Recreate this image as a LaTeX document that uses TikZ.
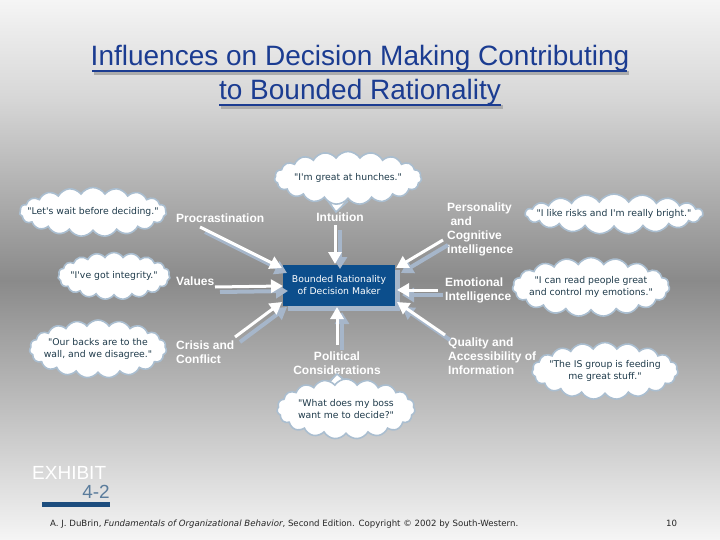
\documentclass[tikz,border=0pt]{standalone}
\usepackage{fontspec}
\setmainfont{Liberation Sans}
\newfontfamily\dvs{DejaVu Sans}
\usetikzlibrary{shapes.symbols,arrows.meta}
\definecolor{boxblue}{RGB}{12,78,140}
\definecolor{shblue}{RGB}{166,182,202}
\definecolor{titleblue}{RGB}{27,60,145}
\definecolor{cloudedge}{RGB}{170,190,208}
\definecolor{cloudtext}{RGB}{30,58,74}
\definecolor{exnum}{RGB}{90,124,156}
\definecolor{exbar}{RGB}{28,77,126}
\definecolor{bga}{RGB}{245,245,245}
\definecolor{bgb}{RGB}{214,214,214}
\definecolor{bgc}{RGB}{138,138,138}
\definecolor{bgd}{RGB}{196,196,196}
\begin{document}
\begin{tikzpicture}[x=1pt,y=-1pt,
  lbl/.style={text=white,font=\fontsize{12}{14}\selectfont\bfseries,inner sep=0pt,align=left},
  cloudshape/.style={cloud,cloud puffs=19,cloud puff arc=115,fill=white,draw=cloudedge,line width=1.6pt,inner sep=0pt},
  ctext/.style={inner sep=0pt,text=cloudtext,font=\dvs\fontsize{9.3}{12}\selectfont,align=center},
  arr/.style={draw=white,line width=3pt,-{Triangle[width=13pt,length=12pt]}},
  arrsh/.style={draw=shblue,line width=4pt,-{Triangle[width=14pt,length=12pt]}},
  ttl/.style={font=\fontsize{28}{32}\selectfont,inner sep=0pt,anchor=base}]
\useasboundingbox (0,0) rectangle (720,540);
% background
\shade[top color=bga,bottom color=bgb] (0,0) rectangle (720,100.5);
\shade[top color=bgb,bottom color=bgc] (0,100) rectangle (720,280.5);
\shade[top color=bgc,bottom color=bgd] (0,280) rectangle (720,420.5);
\shade[top color=bgd,bottom color=bga] (0,420) rectangle (720,540);
% title
\begin{scope}[shift={(2,2)}]
\path[fill=gray!65] (92,69) rectangle (627,73);
\path[fill=gray!65] (219,103) rectangle (501,107);
\end{scope}
\node[ttl,text=titleblue] (t1) at (360,66) {Influences on Decision Making Contributing};
\node[ttl,text=titleblue] (t2) at (360,100) {to Bounded Rationality};
\draw[titleblue,line width=2pt] (92,71) -- (627,71);
\draw[titleblue,line width=2pt] (219,105) -- (501,105);
% central box
\fill[shblue] (288,270) rectangle (400,311);
\node[fill=boxblue,minimum width=112pt,minimum height=41pt,inner sep=0pt,text=white,align=center,
  font=\dvs\fontsize{9.3}{12}\selectfont] (box) at (339,285.5) {Bounded Rationality\\of Decision Maker};
% labels
\node[lbl,anchor=west] (proc) at (176,218) {Procrastination};
\node[lbl] (intu) at (340,217) {Intuition};
\node[lbl,anchor=west] (pers) at (447,229) {Personality\\\ and\\Cognitive\\Intelligence};
\node[lbl,anchor=west] (val) at (176,281) {Values};
\node[lbl,anchor=west] (emo) at (445,290) {Emotional\\Intelligence};
\node[lbl,anchor=west] (cri) at (176,352) {Crisis and\\Conflict};
\node[lbl,align=center] (pol) at (337,363) {Political\\Considerations};
\node[lbl,anchor=west] (qual) at (448,356) {Quality and\\Accessibility of\\Information};
% arrow coordinates
\coordinate (ps) at (200,227); \coordinate (pe) at (282,268);
\coordinate (vs) at (215,287); \coordinate (ve) at (283,286);
\coordinate (cs) at (235,337); \coordinate (ce) at (282,302);
\coordinate (is) at (335,225); \coordinate (ie) at (335,264);
\coordinate (ls) at (337,345); \coordinate (le) at (337,307);
\coordinate (rs) at (443,240); \coordinate (re) at (396,268);
\coordinate (es) at (438,290); \coordinate (ee) at (397,290);
\coordinate (qs) at (445,335); \coordinate (qe) at (397,302);
\foreach \s/\e in {ps/pe,vs/ve,cs/ce,is/ie,ls/le,rs/re,es/ee,qs/qe}{
  \draw[arrsh] ([shift={(5,5)}]\s) -- ([shift={(5,5)}]\e);
}
\foreach \s/\e in {ps/pe,vs/ve,cs/ce,is/ie,ls/le,rs/re,es/ee,qs/qe}{
  \draw[arr] (\s) -- (\e);
}
% clouds
\fill[white] (328,198) -- (336,212) -- (348,198) -- cycle;
\draw[cloudedge,line width=1.6pt] (328,201) -- (336,212) -- (348,201);
\node[cloudshape,minimum width=147pt,minimum height=53pt,aspect=2.8] (c1) at (348,178) {};
\node[ctext] (c1t) at (c1.center) {"I'm great at hunches."};
\fill[white] (328,386) -- (337,374) -- (348,386) -- cycle;
\draw[cloudedge,line width=1.6pt] (328,383) -- (337,374) -- (348,383);
\node[cloudshape,minimum width=138pt,minimum height=60pt,aspect=2.3] (c8) at (346,409) {};
\node[ctext] (c8t) at (c8.center) {"What does my boss\\want me to decide?"};
\node[cloudshape,minimum width=147pt,minimum height=49pt,aspect=3] (c2) at (93,212) {};
\node[ctext] (c2t) at (c2.center) {"Let's wait before deciding."};
\node[cloudshape,minimum width=112pt,minimum height=47pt,aspect=2.4] (c3) at (114,276) {};
\node[ctext] (c3t) at (c3.center) {"I've got integrity."};
\node[cloudshape,minimum width=137pt,minimum height=58pt,aspect=2.4] (c4) at (98,349) {};
\node[ctext] (c4t) at (c4.center) {"Our backs are to the\\wall, and we disagree."};
\node[cloudshape,minimum width=178pt,minimum height=40pt,aspect=4.5] (c5) at (614,214) {};
\node[ctext] (c5t) at (c5.center) {"I like risks and I'm really bright."};
\node[cloudshape,minimum width=157pt,minimum height=59pt,aspect=2.7] (c6) at (591,287) {};
\node[ctext] (c6t) at (c6.center) {"I can read people great\\and control my emotions."};
\node[cloudshape,minimum width=146pt,minimum height=57pt,aspect=2.6] (c7) at (605,371) {};
\node[ctext] (c7t) at (c7.center) {"The IS group is feeding\\me great stuff."};
% exhibit
\node[text=white,font=\fontsize{19}{19}\selectfont,inner sep=0pt,anchor=base west] (ex) at (32,479) {EXHIBIT};
\node[text=exnum,font=\fontsize{19}{19}\selectfont,inner sep=0pt,anchor=base east] (exn) at (110,498) {4-2};
\fill[exbar] (42,502) rectangle (110,507);
% footer
\node[font=\dvs\fontsize{8.6}{9}\selectfont,inner sep=0pt,anchor=base west,text=black!85] (foot) at (50,526)
  {A. J. DuBrin, \textit{Fundamentals of Organizational Behavior}, Second Edition. Copyright © 2002 by South-Western.};
\node[font=\dvs\fontsize{8.6}{9}\selectfont,inner sep=0pt,anchor=base west,text=black!85] (pg) at (666,526) {10};
\end{tikzpicture}
\end{document}
